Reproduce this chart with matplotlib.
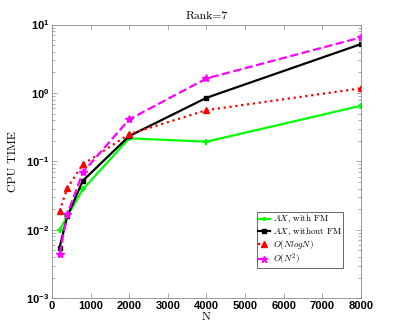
import matplotlib
matplotlib.use("Agg")
from matplotlib import pyplot as plt
from matplotlib.font_manager import FontProperties

# Data
N = [200, 400, 800, 2000, 4000, 8000]
ax_with_fm = [0.0099, 0.0158, 0.039, 0.217, 0.194, 0.65]
ax_without_fm = [0.0055, 0.0158, 0.052, 0.234, 0.85, 5.19]
o_nlogn = [0.0188, 0.041, 0.090, 0.25, 0.56, 1.17]
o_n2 = [0.0044, 0.017, 0.069, 0.41, 1.63, 6.5]

labels = [r"$AX$, with FM", r"$AX$, without FM", r"$O(NlogN)$", r"$O(N^2)$"]
xticks = list(range(0, 8001, 1000))

serif = FontProperties(family="cmr10", size=8.5, math_fontfamily="cm")
legend_font = FontProperties(family="cmr10", size=6.5, math_fontfamily="cm")

fig = plt.figure(figsize=(3.99, 3.32), dpi=100)
ax = fig.add_axes([0.130, 0.102, 0.775, 0.824])

ax.semilogy(N, ax_with_fm, "-", color="#00ff00", lw=1.6, marker="+", ms=4, mew=1.6, label=labels[0])
ax.semilogy(N, ax_without_fm, "-", color="black", lw=1.6, marker="s", ms=3.5, label=labels[1])
ax.semilogy(N, o_nlogn, ":", color="#ff0000", lw=1.6, marker="^", ms=5, label=labels[2])
ax.semilogy(N, o_n2, "--", color="#ff00ff", lw=1.6, marker="*", ms=6, label=labels[3])

ax.set_xlim(0, 8000)
ax.set_ylim(1e-3, 1e1)
ax.set_xticks(xticks)

for s in ax.spines.values():
    s.set_color("0.55")
    s.set_linewidth(0.6)
ax.tick_params(which="both", direction="in", top=True, right=True, color="0.55", width=0.5)
ax.tick_params(which="major", length=3.5, labelsize=8, pad=2)
ax.tick_params(which="minor", length=2)
for t in ax.get_xticklabels() + ax.get_yticklabels():
    t.set_family("Liberation Sans")
    t.set_fontweight("bold")

ax.set_title("Rank=7", fontproperties=serif, pad=4)
ax.set_xlabel("N", fontproperties=serif, labelpad=1)
ax.set_ylabel("CPU TIME", fontproperties=serif, labelpad=6)

leg = ax.legend(loc="lower left", bbox_to_anchor=(0.663, 0.11), prop=legend_font,
                handlelength=1.3, handletextpad=0.3, borderpad=0.15, labelspacing=0.02,
                markerscale=0.8, fancybox=False, framealpha=1, borderaxespad=0)
leg.get_frame().set_edgecolor("0.3")
leg.get_frame().set_linewidth(0.6)

fig.savefig("out.png", dpi=100)
